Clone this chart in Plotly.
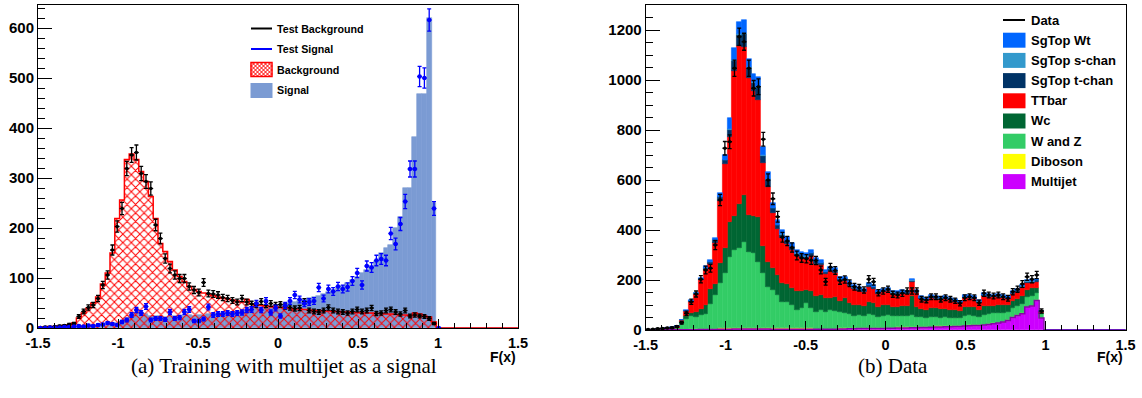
import numpy as np
import plotly.graph_objects as go

N_BINS = 100
X_MIN, X_MAX = -1.5, 1.5

# ---- panel (a): classifier response, multijet trained as the signal ----
train_bkg = [2, 2, 3, 3, 4, 5, 6, 10, 20, 30,
             40, 50, 62, 88, 110, 150, 219, 256, 337, 348,
             337, 313, 293, 263, 219, 169, 153, 133, 116, 103,
             93, 83, 77, 73, 70, 67, 65, 62, 60, 58,
             56, 54, 52, 57, 48, 46, 45, 44, 43, 42,
             41, 40, 39, 38, 38, 37, 36, 35, 35, 34,
             34, 33, 33, 32, 32, 31, 31, 30, 30, 30,
             29, 29, 28, 28, 27, 26, 26, 25, 30, 28,
             24, 22, 12]
train_sig = [1, 1, 1, 1, 2, 2, 2, 3, 3, 4,
             4, 5, 5, 6, 7, 9, 10, 14, 20, 25,
             30, 30, 28, 25, 24, 24, 23, 24, 25, 24,
             25, 26, 25, 26, 27, 28, 29, 29, 30, 31,
             32, 33, 34, 35, 37, 38, 40, 42, 44, 45,
             47, 49, 51, 53, 55, 57, 60, 62, 65, 68,
             72, 76, 80, 85, 90, 96, 102, 110, 117, 125,
             135, 150, 160, 166, 200, 223, 280, 280, 383, 469,
             469, 620, 250]
test_bkg = [1, 2, 2, 3, 4, 5, 7, 9, 23, 33,
            41, 46, 59, 86, 106, 156, 203, 239, 319, 346,
            351, 309, 293, 279, 206, 179, 139, 119, 106, 99,
            99, 83, 76, 71, 91, 69, 68, 66, 61, 59,
            55, 52, 59, 52, 48, 46, 53, 46, 49, 46,
            47, 43, 41, 39, 40, 53, 35, 33, 32, 35,
            41, 35, 33, 32, 30, 33, 37, 33, 35, 40,
            29, 30, 35, 37, 32, 28, 35, 24, 26, 24,
            23, 19, 9]
test_sig = [0, 0, 1, 1, 1, 2, 2, 3, 4, 3,
            5, 4, 6, 7, 10, 8, 6, 12, 16, 26,
            36, 30, 43, 16, 19, 19, 17, 32, 19, 21,
            32, 37, 14, 14, 18, 42, 26, 28, 28, 30,
            28, 30, 31, 36, 37, 49, 36, 54, 31, 40,
            24, 45, 54, 66, 57, 49, 52, 54, 81, 59,
            78, 73, 83, 78, 82, 94, 110, 86, 124, 121,
            135, 138, 135, 189, 168, 208, 253, 318, 318, 503,
            500, 616, 239, 0]

# ---- panel (b): data against the stacked prediction ----
data_counts = [2, 3, 5, 6, 8, 9, 14, 29, 67, 113,
               144, 203, 240, 247, 340, 520, 727, 753, 1047, 1173,
               1153, 1047, 967, 973, 763, 600, 525, 453, 371, 356,
               330, 298, 288, 285, 279, 278, 240, 193, 251, 238,
               197, 202, 187, 173, 169, 160, 203, 193, 149, 156,
               163, 143, 140, 147, 156, 156, 156, 123, 120, 133,
               133, 123, 129, 123, 117, 107, 129, 133, 129, 109,
               147, 140, 136, 140, 133, 127, 153, 163, 184, 213,
               203, 220, 76]
multijet = [0, 0, 0, 1, 1, 1, 1, 1, 1, 1,
            1, 2, 2, 2, 2, 3, 3, 3, 4, 4,
            4, 4, 4, 4, 4, 4, 3, 3, 3, 3,
            3, 3, 3, 3, 3, 3, 3, 3, 3, 3,
            4, 4, 5, 5, 6, 6, 6, 6, 6, 6,
            7, 7, 8, 8, 8, 9, 9, 10, 10, 11,
            12, 12, 13, 13, 14, 14, 16, 17, 18, 18,
            20, 22, 25, 28, 32, 38, 50, 58, 65, 92,
            96, 118, 48]
diboson = [0, 0, 0, 0, 0, 0, 1, 1, 1, 2,
           2, 2, 3, 3, 3, 4, 5, 5, 6, 6,
           6, 6, 6, 6, 5, 5, 5, 4, 4, 4,
           4, 4, 4, 4, 4, 3, 3, 3, 3, 3,
           3, 3, 3, 3, 3, 3, 3, 3, 3, 3,
           3, 3, 3, 3, 3, 3, 3, 3, 3, 3,
           3, 3, 3, 3, 3, 2, 2, 2, 2, 2,
           2, 2, 2, 2, 2, 2, 2, 2, 2, 2,
           2, 2, 1]
w_and_z = [1, 1, 2, 2, 3, 3, 5, 25, 42, 52,
           50, 55, 60, 100, 135, 180, 220, 285, 310, 320,
           343, 303, 297, 263, 218, 165, 152, 133, 106, 106,
           93, 73, 80, 100, 80, 67, 74, 67, 74, 70,
           66, 60, 55, 50, 52, 48, 55, 52, 45, 48,
           50, 45, 44, 46, 44, 50, 42, 38, 36, 38,
           36, 35, 35, 34, 33, 32, 40, 40, 38, 34,
           40, 40, 40, 38, 36, 34, 35, 36, 38, 40,
           40, 28, 16]
wc = [0, 0, 0, 1, 1, 1, 2, 6, 12, 14,
      20, 25, 35, 60, 45, 80, 100, 140, 135, 175,
      187, 147, 150, 180, 110, 100, 90, 80, 75, 70,
      70, 75, 70, 55, 70, 65, 60, 55, 50, 55,
      45, 60, 45, 42, 40, 40, 50, 48, 40, 42,
      40, 38, 38, 40, 40, 75, 40, 35, 33, 36,
      36, 33, 35, 32, 30, 30, 35, 34, 33, 28,
      35, 33, 30, 32, 30, 25, 28, 28, 30, 28,
      30, 20, 5]
ttbar = [1, 1, 2, 2, 3, 4, 7, 7, 20, 45,
         70, 115, 140, 100, 165, 250, 335, 340, 580, 630,
         593, 547, 500, 467, 330, 300, 220, 185, 180, 160,
         150, 140, 132, 122, 140, 128, 120, 95, 105, 98,
         80, 70, 70, 64, 56, 54, 60, 56, 52, 52,
         56, 51, 49, 50, 50, 55, 53, 37, 36, 40,
         39, 38, 38, 37, 34, 29, 35, 35, 33, 27,
         39, 36, 34, 34, 29, 25, 29, 30, 34, 27,
         21, 26, 4]
sgtop_t = [0, 0, 0, 0, 0, 1, 1, 1, 2, 3,
           3, 5, 7, 7, 9, 14, 17, 27, 40, 45,
           50, 42, 30, 47, 30, 27, 18, 15, 14, 13,
           12, 11, 11, 10, 10, 10, 9, 8, 8, 8,
           7, 7, 7, 6, 6, 6, 7, 6, 6, 6,
           6, 6, 5, 6, 6, 6, 6, 5, 5, 5,
           5, 5, 5, 5, 5, 5, 5, 5, 5, 5,
           5, 5, 5, 5, 5, 5, 5, 5, 5, 5,
           5, 5, 1]
sgtop_s = [0, 0, 0, 0, 0, 0, 0, 0, 0, 0,
           1, 1, 1, 1, 1, 2, 2, 3, 4, 5,
           5, 4, 4, 4, 3, 3, 2, 2, 2, 2,
           1, 1, 1, 1, 1, 1, 1, 1, 1, 1,
           1, 1, 1, 1, 1, 1, 1, 1, 1, 1,
           1, 1, 1, 1, 1, 1, 1, 1, 1, 1,
           1, 1, 1, 1, 1, 1, 1, 1, 1, 1,
           1, 1, 1, 1, 1, 1, 1, 1, 1, 1,
           1, 1, 0]
sgtop_wt = [0, 0, 0, 0, 1, 1, 1, 1, 2, 3,
            3, 5, 7, 7, 10, 16, 18, 44, 48, 48,
            52, 30, 33, 40, 33, 29, 20, 18, 16, 15,
            14, 13, 12, 12, 12, 10, 10, 8, 9, 9,
            7, 8, 9, 9, 8, 7, 8, 8, 7, 7,
            7, 7, 7, 6, 6, 6, 6, 6, 6, 6,
            6, 5, 5, 5, 5, 5, 6, 6, 5, 5,
            6, 6, 5, 5, 5, 5, 5, 5, 5, 5,
            5, 5, 1]

x_tick_vals = [-1.5, -1.0, -0.5, 0.0, 0.5, 1.0, 1.5]
x_tick_text = ["-1.5", "-1", "-0.5", "0", "0.5", "1", "1.5"]


def pad(values):
    arr = np.zeros(N_BINS)
    arr[:len(values)] = values
    return arr


edges = np.linspace(X_MIN, X_MAX, N_BINS + 1)
width = edges[1] - edges[0]
centers = edges[:-1] + width / 2

W, H = 1142, 398
FONT = "Liberation Sans"
BLACK = "#000000"
SIG_FILL = "#7b9bd3"
BLUE_PTS = "#0000ff"
RED = "#ff0000"


def px_x(p):
    return p / W


def px_y(p):
    return 1 - p / H


fig = go.Figure()

# ---------------- panel (a) ----------------
sig_h = pad(train_sig)
bkg_h = pad(train_bkg)
fig.add_trace(go.Bar(x=centers, y=sig_h, width=width, xaxis="x", yaxis="y",
                     marker=dict(color=SIG_FILL, line=dict(width=0.6, color=SIG_FILL)),
                     name="Signal"))
fig.add_trace(go.Bar(x=centers, y=bkg_h, width=width, xaxis="x", yaxis="y",
                     marker=dict(color=RED, line=dict(width=0),
                                 pattern=dict(shape="x", fgcolor=RED, bgcolor="rgba(0,0,0,0)",
                                              size=6, solidity=0.3, fillmode="replace")),
                     name="Background"))
# outline of the hatched histogram
fig.add_trace(go.Scatter(x=edges, y=np.append(bkg_h, bkg_h[-1]), mode="lines",
                         line=dict(color=RED, width=1.5, shape="hv"), cliponaxis=False,
                         xaxis="x", yaxis="y", hoverinfo="skip"))

tb = np.array(test_bkg, float)
fig.add_trace(go.Scatter(x=centers[:len(tb)], y=tb, mode="markers", xaxis="x", yaxis="y",
                         marker=dict(color=BLACK, size=3.5), name="Test Background",
                         error_y=dict(type="data", array=np.sqrt(tb) * 0.8, color=BLACK,
                                      thickness=1.3, width=2),
                         error_x=dict(type="constant", value=width / 2, color=BLACK,
                                      thickness=1.3, width=0)))
ts = np.array(test_sig, float)
fig.add_trace(go.Scatter(x=centers[:len(ts)], y=ts, mode="markers", xaxis="x", yaxis="y",
                         marker=dict(color=BLUE_PTS, size=4.5), name="Test Signal",
                         error_y=dict(type="data", array=np.sqrt(ts) * 0.9, color=BLUE_PTS,
                                      thickness=1.3, width=2),
                         error_x=dict(type="constant", value=width / 2, color=BLUE_PTS,
                                      thickness=1.3, width=0)))

# ---------------- panel (b) ----------------
stack = [
    ("Multijet", multijet, "#cc00ff"),
    ("Diboson", diboson, "#ffff00"),
    ("W and Z", w_and_z, "#33cc66"),
    ("Wc", wc, "#006633"),
    ("TTbar", ttbar, "#ff0000"),
    ("SgTop t-chan", sgtop_t, "#003366"),
    ("SgTop s-chan", sgtop_s, "#3399cc"),
    ("SgTop Wt", sgtop_wt, "#0066ff"),
]
base = np.zeros(N_BINS)
for name, vals, col in stack:
    v = pad(vals)
    fig.add_trace(go.Bar(x=centers, y=v, base=base.copy(), width=width,
                         xaxis="x2", yaxis="y2", name=name,
                         marker=dict(color=col, line=dict(width=0.6, color=col))))
    base = base + v

# bottom outline of the stack
mj = pad(multijet)
fig.add_trace(go.Scatter(x=edges, y=np.append(mj, mj[-1]), mode="lines",
                         line=dict(color="#8800aa", width=1.5, shape="hv"), cliponaxis=False,
                         xaxis="x2", yaxis="y2", hoverinfo="skip"))

dc = np.array(data_counts, float)
fig.add_trace(go.Scatter(x=centers[:len(dc)], y=dc, mode="markers", xaxis="x2", yaxis="y2",
                         marker=dict(color=BLACK, size=3.5), name="Data",
                         error_y=dict(type="data", array=np.sqrt(dc), color=BLACK,
                                      thickness=1.3, width=2),
                         error_x=dict(type="constant", value=width / 2, color=BLACK,
                                      thickness=1.3, width=0)))

# ---------------- legends (ROOT style boxes) ----------------
shapes = []
annotations = []


def legend_line(x0, x1, yc, color):
    shapes.append(dict(type="line", xref="paper", yref="paper",
                       x0=px_x(x0), x1=px_x(x1), y0=px_y(yc), y1=px_y(yc),
                       line=dict(color=color, width=2)))


def legend_box(x0, x1, yc, h, color):
    shapes.append(dict(type="rect", xref="paper", yref="paper",
                       x0=px_x(x0), x1=px_x(x1), y0=px_y(yc - h / 2), y1=px_y(yc + h / 2),
                       fillcolor=color, line=dict(width=0)))


def legend_hatch_box(x0, x1, yc, h, color, step=4.0):
    y0, y1 = yc - h / 2, yc + h / 2
    w = x1 - x0
    c = -w
    while c <= h:
        xa, xb = max(x0, x0 - c), min(x1, x0 + h - c)
        if xa < xb:
            shapes.append(dict(type="line", xref="paper", yref="paper",
                               x0=px_x(xa), y0=px_y(y0 + (xa - x0) + c),
                               x1=px_x(xb), y1=px_y(y0 + (xb - x0) + c),
                               line=dict(color=color, width=1)))
        c += step
    c = 0.0
    while c <= w + h:
        xa, xb = max(x0, x0 + c - h), min(x1, x0 + c)
        if xa < xb:
            shapes.append(dict(type="line", xref="paper", yref="paper",
                               x0=px_x(xa), y0=px_y(y0 + c - (xa - x0)),
                               x1=px_x(xb), y1=px_y(y0 + c - (xb - x0)),
                               line=dict(color=color, width=1)))
        c += step
    shapes.append(dict(type="rect", xref="paper", yref="paper",
                       x0=px_x(x0), x1=px_x(x1), y0=px_y(y0), y1=px_y(y1),
                       line=dict(color=color, width=1.5)))


def legend_text(x, yc, text, size):
    annotations.append(dict(text=text, x=px_x(x), y=px_y(yc), xref="paper", yref="paper",
                            xanchor="left", yanchor="middle", showarrow=False,
                            font=dict(family=FONT, size=size, color=BLACK, weight="bold")))


# panel (a) legend
legend_line(251, 272, 28.5, BLACK)
legend_text(275, 28.5, "Test Background", 10.7)
legend_line(251, 272, 49, BLUE_PTS)
legend_text(275, 49, "Test Signal", 10.7)
legend_hatch_box(251, 272, 69.5, 14, RED)
legend_text(275, 69.5, "Background", 10.7)
legend_box(250.5, 272.5, 90.5, 15, SIG_FILL)
legend_text(275, 90.5, "Signal", 10.7)

# panel (b) legend
rows_b = 20.0 + 20.2 * np.arange(9)
legend_line(1003, 1025, rows_b[0], BLACK)
legend_text(1029, rows_b[0], "Data", 13)
for i, (name, _, col) in enumerate(reversed(stack), start=1):
    legend_box(1003, 1025.5, rows_b[i], 15, col)
    legend_text(1029, rows_b[i], name, 13)

tick_font = dict(family=FONT, size=15, color=BLACK, weight="bold")


def x_axis(dom, anchor):
    return dict(range=[X_MIN, X_MAX], domain=dom, anchor=anchor, automargin=False,
                showline=True, linecolor=BLACK, linewidth=1,
                mirror=True, ticks="inside", ticklen=9, tickwidth=1, tickcolor=BLACK,
                tickmode="array", tickvals=x_tick_vals, ticktext=x_tick_text,
                tickfont=dict(family=FONT, size=14.5, color=BLACK, weight="bold"),
                ticklabelstandoff=2,
                showgrid=False, zeroline=False,
                minor=dict(ticks="inside", ticklen=5, tickwidth=1, tickcolor=BLACK,
                           dtick=0.1, tick0=-1.5, showgrid=False))


def y_axis(rng, dtick, mdtick, dom, anchor):
    return dict(range=rng, domain=dom, anchor=anchor, automargin=False,
                showline=True, linecolor=BLACK, linewidth=1,
                mirror=True, ticks="inside", ticklen=14, tickwidth=1, tickcolor=BLACK,
                dtick=dtick, tick0=0, tickfont=tick_font, showgrid=False, zeroline=False,
                minor=dict(ticks="inside", ticklen=7, tickwidth=1, tickcolor=BLACK,
                           dtick=mdtick, tick0=0, showgrid=False))


annotations += [
    dict(text="F(x)", x=px_x(518), y=px_y(357), xref="paper", yref="paper",
         xanchor="right", yanchor="middle", showarrow=False,
         font=dict(family=FONT, size=14, color=BLACK, weight="bold")),
    dict(text="F(x)", x=px_x(1125), y=px_y(357), xref="paper", yref="paper",
         xanchor="right", yanchor="middle", showarrow=False,
         font=dict(family=FONT, size=14, color=BLACK, weight="bold")),
    dict(text="(a) Training with multijet as a signal", x=px_x(284), y=px_y(366),
         xref="paper", yref="paper", xanchor="center", yanchor="middle",
         showarrow=False, font=dict(family="Liberation Serif", size=21, color=BLACK)),
    dict(text="(b) Data", x=px_x(893), y=px_y(366),
         xref="paper", yref="paper", xanchor="center", yanchor="middle",
         showarrow=False, font=dict(family="Liberation Serif", size=21, color=BLACK)),
]

fig.update_layout(
    width=W, height=H, margin=dict(l=0, r=0, t=0, b=0, autoexpand=False),
    paper_bgcolor="white", plot_bgcolor="white",
    barmode="overlay", bargap=0, showlegend=False,
    xaxis=x_axis([px_x(38), px_x(518)], "y"),
    yaxis=y_axis([0, 646], 100, 20, [px_y(328), px_y(5)], "x"),
    xaxis2=x_axis([px_x(645.7), px_x(1125.5)], "y2"),
    yaxis2=y_axis([0, 1300], 200, 50, [px_y(330), px_y(5)], "x2"),
    shapes=shapes,
    annotations=annotations,
)

fig.write_html("out.html")
